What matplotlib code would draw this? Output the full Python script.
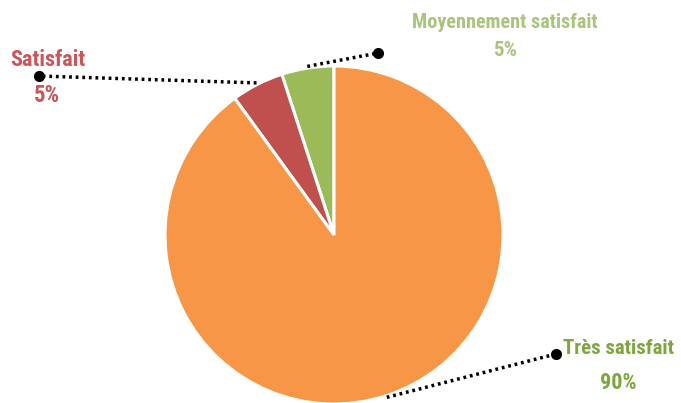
import math
import matplotlib
matplotlib.use("Agg")
import matplotlib.pyplot as plt
from matplotlib import font_manager

# data (counter-clockwise from 12 o'clock)
labels = ["Moyennement satisfait", "Satisfait", "Très satisfait"]
values = [5, 5, 90]
pct_labels = ["5%", "5%", "90%"]

wedge_colors = ["#9BBB59", "#C0504D", "#F79646"]
text_colors = ["#A9C47C", "#C9575A", "#7DA63E"]

W, H = 681, 403
fig = plt.figure(figsize=(W / 100, H / 100), dpi=100)
ax = fig.add_axes([0, 0, 1, 1])

cx, cy, r = 334, H - 235, 169
wedges, _ = ax.pie(values, colors=wedge_colors, startangle=90, counterclock=True,
                   center=(cx, cy), radius=r,
                   wedgeprops=dict(edgecolor="white", linewidth=2.2))
ax.set_xlim(0, W)
ax.set_ylim(0, H)
ax.set_aspect("equal")
ax.axis("off")

# pick a narrow face if one is around
names = {f.name for f in font_manager.fontManager.ttflist}
narrow = [n for n in ["Liberation Sans Narrow", "Roboto Condensed", "Open Sans Condensed",
                      "DejaVu Sans Condensed"] if n in names]
font = narrow + ["DejaVu Sans"]
stretch = "normal" if narrow else "condensed"

# label layout: dot position, text position (pixels from top-left), alignment
dots = [(378, 53), (39, 76), (556, 354)]
name_pos = [(505, 23), (10, 60), (563, 348)]
name_ha = ["center", "left", "left"]
pct_pos = [(505, 51), (47, 96), (618, 383)]
name_size = [14.5, 16, 15]
pct_size = [15, 16.5, 16]

for i, w in enumerate(wedges):
    mid = math.radians((w.theta1 + w.theta2) / 2)
    x0 = cx + r * 1.01 * math.cos(mid)
    y0 = cy + r * 1.01 * math.sin(mid)
    dx, dy = dots[i]
    ax.plot([x0, dx], [y0, H - dy], color="black", linewidth=2.5,
            linestyle=(0, (0.8, 1.1)), zorder=3)
    ax.plot(dx, H - dy, "o", color="black", markersize=7, zorder=4)
    nx, ny = name_pos[i]
    ax.text(nx, H - ny, labels[i], ha=name_ha[i], va="center", color=text_colors[i],
            fontsize=name_size[i], fontweight="bold", family=font, fontstretch=stretch)
    px, py = pct_pos[i]
    ax.text(px, H - py, pct_labels[i], ha="center", va="center", color=text_colors[i],
            fontsize=pct_size[i], fontweight="bold", family=font, fontstretch=stretch)

fig.savefig("out.png", dpi=100)
